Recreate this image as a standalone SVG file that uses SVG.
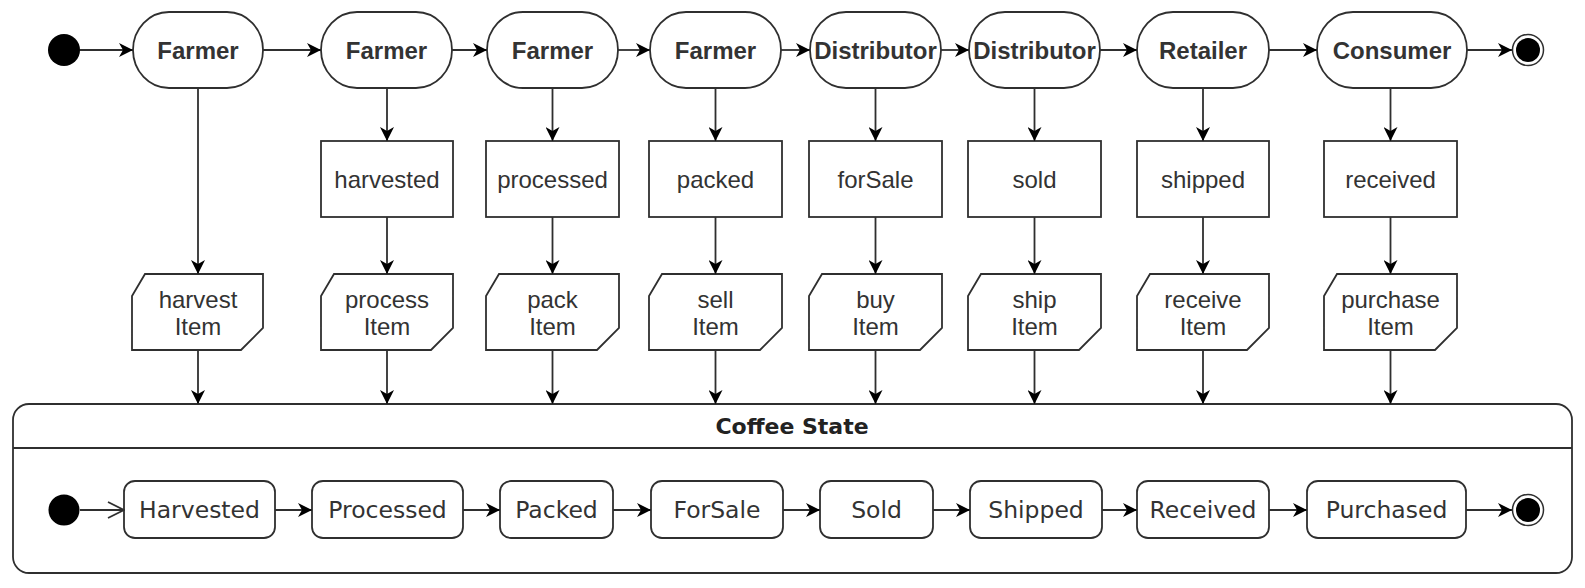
<svg xmlns="http://www.w3.org/2000/svg" width="1585" height="588" viewBox="0 0 1585 588">
<style>
.sh{fill:#fff;stroke:#2f2f2f;stroke-width:1.8}
.ln{fill:none;stroke:#2f2f2f;stroke-width:1.8}
.actor{font-family:"Liberation Sans",Arial,sans-serif;font-weight:bold;font-size:24px;fill:#333;text-anchor:middle}
.lbl{font-family:"Liberation Sans",Arial,sans-serif;font-size:24px;fill:#333;text-anchor:middle}
.st{font-family:"DejaVu Sans",Verdana,sans-serif;font-size:23.5px;fill:#333;text-anchor:middle}
.ttl{font-family:"DejaVu Sans",Verdana,sans-serif;font-weight:bold;font-size:22px;fill:#222;text-anchor:middle}
.dot{fill:#000}
</style>
<defs>
<marker id="arr" viewBox="0 0 14 14" refX="14" refY="7" markerWidth="14" markerHeight="14" orient="auto" markerUnits="userSpaceOnUse">
<path d="M0,0 L14,7 L0,14 L4,7 Z" fill="#000"/>
</marker>
<marker id="open" viewBox="0 0 18 18" refX="17" refY="9" markerWidth="18" markerHeight="18" orient="auto" markerUnits="userSpaceOnUse">
<path d="M1,1 L17,9 L1,17" fill="none" stroke="#2f2f2f" stroke-width="1.8"/>
</marker>
</defs>

<!-- container -->
<g id="coffee-state">
<rect class="sh" x="13" y="404" width="1559" height="169" rx="16"/>
<line class="ln" x1="13" y1="448" x2="1572" y2="448"/>
<text class="ttl" x="792" y="434">Coffee State</text>
</g>

<!-- top row -->
<g id="start-top"><circle class="dot" cx="64" cy="50" r="16"/></g>
<g id="farmer1"><rect class="sh" x="133" y="12" width="130" height="76" rx="36" ry="38"/><text class="actor" x="198" y="58.5">Farmer</text></g>
<g id="farmer2"><rect class="sh" x="321" y="12" width="131" height="76" rx="36" ry="38"/><text class="actor" x="386.5" y="58.5">Farmer</text></g>
<g id="farmer3"><rect class="sh" x="487" y="12" width="131" height="76" rx="36" ry="38"/><text class="actor" x="552.5" y="58.5">Farmer</text></g>
<g id="farmer4"><rect class="sh" x="650" y="12" width="131" height="76" rx="36" ry="38"/><text class="actor" x="715.5" y="58.5">Farmer</text></g>
<g id="distributor1"><rect class="sh" x="810" y="12" width="131" height="76" rx="36" ry="38"/><text class="actor" x="875.5" y="58.5">Distributor</text></g>
<g id="distributor2"><rect class="sh" x="969" y="12" width="131" height="76" rx="36" ry="38"/><text class="actor" x="1034.5" y="58.5">Distributor</text></g>
<g id="retailer"><rect class="sh" x="1137" y="12" width="132" height="76" rx="36" ry="38"/><text class="actor" x="1203" y="58.5">Retailer</text></g>
<g id="consumer"><rect class="sh" x="1317" y="12" width="150" height="76" rx="36" ry="38"/><text class="actor" x="1392" y="58.5">Consumer</text></g>
<g id="end-top"><circle cx="1528" cy="50" r="15.5" fill="#fff" stroke="#2f2f2f" stroke-width="1.5"/><circle class="dot" cx="1528" cy="50" r="12"/></g>

<!-- event rects -->
<g id="harvested"><rect class="sh" x="321" y="141" width="132" height="76"/><text class="lbl" x="387" y="188">harvested</text></g>
<g id="processed"><rect class="sh" x="486" y="141" width="133" height="76"/><text class="lbl" x="552.5" y="188">processed</text></g>
<g id="packed"><rect class="sh" x="649" y="141" width="133" height="76"/><text class="lbl" x="715.5" y="188">packed</text></g>
<g id="forSale"><rect class="sh" x="809" y="141" width="133" height="76"/><text class="lbl" x="875.5" y="188">forSale</text></g>
<g id="sold"><rect class="sh" x="968" y="141" width="133" height="76"/><text class="lbl" x="1034.5" y="188">sold</text></g>
<g id="shipped"><rect class="sh" x="1137" y="141" width="132" height="76"/><text class="lbl" x="1203" y="188">shipped</text></g>
<g id="received"><rect class="sh" x="1324" y="141" width="133" height="76"/><text class="lbl" x="1390.5" y="188">received</text></g>

<!-- function shapes -->
<g id="harvestItem"><path class="sh" d="M145,274 H263 V328 L241,350 H132 V296 Z"/><text class="lbl" x="198" y="307.5">harvest</text><text class="lbl" x="198" y="335">Item</text></g>
<g id="processItem"><path class="sh" d="M334,274 H453 V328 L431,350 H321 V296 Z"/><text class="lbl" x="387" y="307.5">process</text><text class="lbl" x="387" y="335">Item</text></g>
<g id="packItem"><path class="sh" d="M499,274 H619 V328 L597,350 H486 V296 Z"/><text class="lbl" x="552.5" y="307.5">pack</text><text class="lbl" x="552.5" y="335">Item</text></g>
<g id="sellItem"><path class="sh" d="M662,274 H782 V328 L760,350 H649 V296 Z"/><text class="lbl" x="715.5" y="307.5">sell</text><text class="lbl" x="715.5" y="335">Item</text></g>
<g id="buyItem"><path class="sh" d="M822,274 H942 V328 L920,350 H809 V296 Z"/><text class="lbl" x="875.5" y="307.5">buy</text><text class="lbl" x="875.5" y="335">Item</text></g>
<g id="shipItem"><path class="sh" d="M981,274 H1101 V328 L1079,350 H968 V296 Z"/><text class="lbl" x="1034.5" y="307.5">ship</text><text class="lbl" x="1034.5" y="335">Item</text></g>
<g id="receiveItem"><path class="sh" d="M1150,274 H1269 V328 L1247,350 H1137 V296 Z"/><text class="lbl" x="1203" y="307.5">receive</text><text class="lbl" x="1203" y="335">Item</text></g>
<g id="purchaseItem"><path class="sh" d="M1337,274 H1457 V328 L1435,350 H1324 V296 Z"/><text class="lbl" x="1390.5" y="307.5">purchase</text><text class="lbl" x="1390.5" y="335">Item</text></g>

<!-- states -->
<g id="start-state"><circle class="dot" cx="64" cy="510" r="15.5"/></g>
<g id="Harvested"><rect class="sh" x="124" y="481" width="151" height="57" rx="11"/><text class="st" x="199.5" y="518">Harvested</text></g>
<g id="Processed"><rect class="sh" x="312" y="481" width="151" height="57" rx="11"/><text class="st" x="387.5" y="518">Processed</text></g>
<g id="Packed"><rect class="sh" x="500" y="481" width="113" height="57" rx="11"/><text class="st" x="556.5" y="518">Packed</text></g>
<g id="ForSale"><rect class="sh" x="651" y="481" width="132" height="57" rx="11"/><text class="st" x="717" y="518">ForSale</text></g>
<g id="Sold"><rect class="sh" x="820" y="481" width="113" height="57" rx="11"/><text class="st" x="876.5" y="518">Sold</text></g>
<g id="Shipped"><rect class="sh" x="970" y="481" width="132" height="57" rx="11"/><text class="st" x="1036" y="518">Shipped</text></g>
<g id="Received"><rect class="sh" x="1137" y="481" width="132" height="57" rx="11"/><text class="st" x="1203" y="518">Received</text></g>
<g id="Purchased"><rect class="sh" x="1307" y="481" width="159" height="57" rx="11"/><text class="st" x="1386.5" y="518">Purchased</text></g>
<g id="end-state"><circle cx="1528" cy="510" r="15.5" fill="#fff" stroke="#2f2f2f" stroke-width="1.5"/><circle class="dot" cx="1528" cy="510" r="12"/></g>

<!-- connectors -->
<g id="connectors">
<line class="ln" x1="80" y1="50" x2="133" y2="50" marker-end="url(#arr)"/>
<line class="ln" x1="263" y1="50" x2="321" y2="50" marker-end="url(#arr)"/>
<line class="ln" x1="452" y1="50" x2="487" y2="50" marker-end="url(#arr)"/>
<line class="ln" x1="618" y1="50" x2="650" y2="50" marker-end="url(#arr)"/>
<line class="ln" x1="781" y1="50" x2="810" y2="50" marker-end="url(#arr)"/>
<line class="ln" x1="941" y1="50" x2="969" y2="50" marker-end="url(#arr)"/>
<line class="ln" x1="1100" y1="50" x2="1137" y2="50" marker-end="url(#arr)"/>
<line class="ln" x1="1269" y1="50" x2="1317" y2="50" marker-end="url(#arr)"/>
<line class="ln" x1="1467" y1="50" x2="1512" y2="50" marker-end="url(#arr)"/>

<line class="ln" x1="198" y1="88" x2="198" y2="274" marker-end="url(#arr)"/>
<line class="ln" x1="387" y1="88" x2="387" y2="141" marker-end="url(#arr)"/>
<line class="ln" x1="552.5" y1="88" x2="552.5" y2="141" marker-end="url(#arr)"/>
<line class="ln" x1="715.5" y1="88" x2="715.5" y2="141" marker-end="url(#arr)"/>
<line class="ln" x1="875.5" y1="88" x2="875.5" y2="141" marker-end="url(#arr)"/>
<line class="ln" x1="1034.5" y1="88" x2="1034.5" y2="141" marker-end="url(#arr)"/>
<line class="ln" x1="1203" y1="88" x2="1203" y2="141" marker-end="url(#arr)"/>
<line class="ln" x1="1390.5" y1="88" x2="1390.5" y2="141" marker-end="url(#arr)"/>

<line class="ln" x1="387" y1="217" x2="387" y2="274" marker-end="url(#arr)"/>
<line class="ln" x1="552.5" y1="217" x2="552.5" y2="274" marker-end="url(#arr)"/>
<line class="ln" x1="715.5" y1="217" x2="715.5" y2="274" marker-end="url(#arr)"/>
<line class="ln" x1="875.5" y1="217" x2="875.5" y2="274" marker-end="url(#arr)"/>
<line class="ln" x1="1034.5" y1="217" x2="1034.5" y2="274" marker-end="url(#arr)"/>
<line class="ln" x1="1203" y1="217" x2="1203" y2="274" marker-end="url(#arr)"/>
<line class="ln" x1="1390.5" y1="217" x2="1390.5" y2="274" marker-end="url(#arr)"/>

<line class="ln" x1="198" y1="350" x2="198" y2="404" marker-end="url(#arr)"/>
<line class="ln" x1="387" y1="350" x2="387" y2="404" marker-end="url(#arr)"/>
<line class="ln" x1="552.5" y1="350" x2="552.5" y2="404" marker-end="url(#arr)"/>
<line class="ln" x1="715.5" y1="350" x2="715.5" y2="404" marker-end="url(#arr)"/>
<line class="ln" x1="875.5" y1="350" x2="875.5" y2="404" marker-end="url(#arr)"/>
<line class="ln" x1="1034.5" y1="350" x2="1034.5" y2="404" marker-end="url(#arr)"/>
<line class="ln" x1="1203" y1="350" x2="1203" y2="404" marker-end="url(#arr)"/>
<line class="ln" x1="1390.5" y1="350" x2="1390.5" y2="404" marker-end="url(#arr)"/>

<line class="ln" x1="80" y1="510" x2="124" y2="510" marker-end="url(#open)"/>
<line class="ln" x1="275" y1="510" x2="312" y2="510" marker-end="url(#arr)"/>
<line class="ln" x1="463" y1="510" x2="500" y2="510" marker-end="url(#arr)"/>
<line class="ln" x1="613" y1="510" x2="651" y2="510" marker-end="url(#arr)"/>
<line class="ln" x1="783" y1="510" x2="820" y2="510" marker-end="url(#arr)"/>
<line class="ln" x1="933" y1="510" x2="970" y2="510" marker-end="url(#arr)"/>
<line class="ln" x1="1102" y1="510" x2="1137" y2="510" marker-end="url(#arr)"/>
<line class="ln" x1="1269" y1="510" x2="1307" y2="510" marker-end="url(#arr)"/>
<line class="ln" x1="1466" y1="510" x2="1512" y2="510" marker-end="url(#arr)"/>
</g>
</svg>
